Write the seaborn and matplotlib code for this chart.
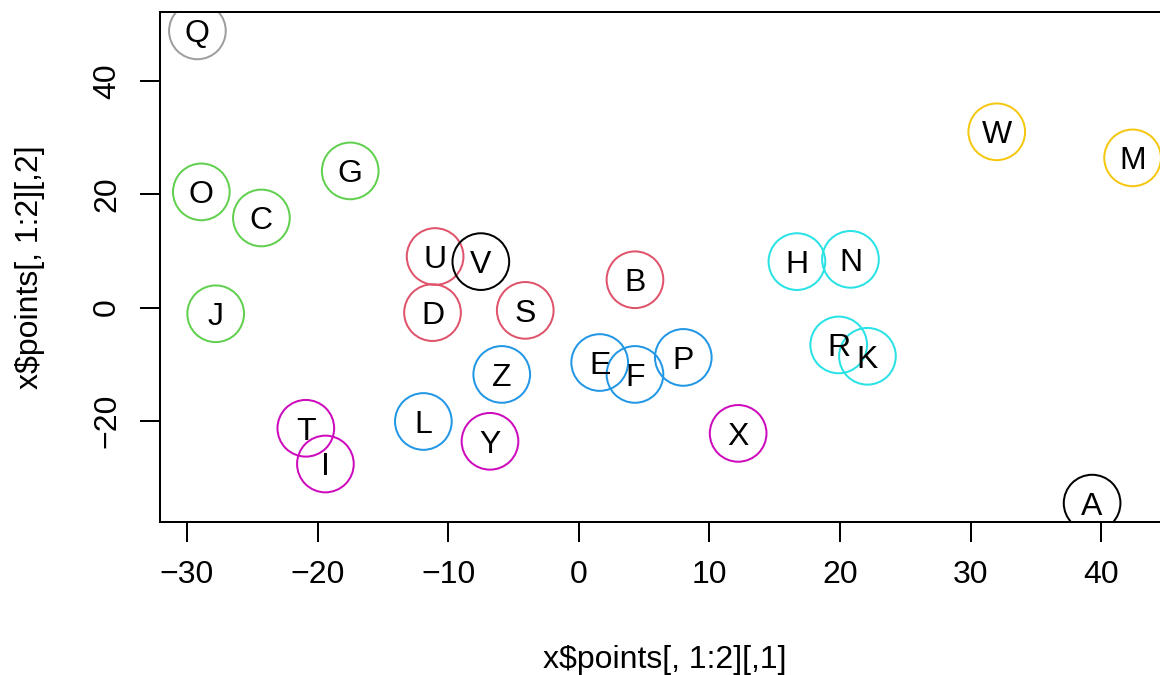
"""Labelled MDS-style scatter, hollow circles coloured by cluster."""

import matplotlib

matplotlib.use("Agg")
import matplotlib.pyplot as plt
import pandas as pd
import seaborn as sns

labels = ["Q", "W", "M", "G", "O", "C", "U", "V", "H", "N", "B", "J", "D",
          "S", "R", "K", "P", "E", "F", "Z", "L", "T", "X", "Y", "I", "A"]
xs = [-29.2, 32.0, 42.4, -17.5, -28.9, -24.3, -11.0, -7.5, 16.7, 20.8, 4.3, -27.8, -11.2,
      -4.1, 19.9, 22.1, 8.0, 1.6, 4.3, -5.9, -11.9, -20.9, 12.2, -6.8, -19.4, 39.3]
ys = [48.8, 31.0, 26.4, 24.1, 20.4, 15.8, 9.0, 8.1, 8.1, 8.5, 4.9, -1.1, -0.9,
      -0.5, -6.6, -8.6, -8.8, -9.7, -11.8, -11.8, -20.1, -21.3, -22.2, -23.6, -27.6, -34.5]
groups = [8, 7, 7, 3, 3, 3, 2, 1, 5, 5, 2, 3, 2,
          2, 5, 5, 4, 4, 4, 4, 4, 6, 6, 6, 6, 1]

# R 4.x default palette
palette = {1: "#000000", 2: "#DF536B", 3: "#61D04F", 4: "#2297E6",
           5: "#28E2E5", 6: "#CD0BBC", 7: "#F5C710", 8: "#9E9E9E"}

df = pd.DataFrame({"x": xs, "y": ys, "label": labels, "group": groups})

sns.set_style("ticks")
plt.rcParams["font.family"] = ["Liberation Sans", "DejaVu Sans"]
plt.rcParams["text.color"] = "black"
plt.rcParams["axes.labelcolor"] = "black"

W, H = 1160, 675
fig = plt.figure(figsize=(W / 100, H / 100), dpi=100)
ax = fig.add_axes([160 / W, 1 - 522 / H, 1010 / W, 510 / H])

sns.scatterplot(data=df, x="x", y="y", hue="group", palette=palette, s=1665,
                marker="o", linewidth=1.44, legend=False, ax=ax)
pts = ax.collections[0]
pts.set_edgecolors(pts.get_facecolors())
pts.set_facecolors("none")

fs = 23
for _, row in df.iterrows():
    ax.annotate(row["label"], (row["x"], row["y"]), xytext=(0, -0.36 * fs),
                textcoords="offset points", ha="center", va="baseline",
                fontsize=fs, color="black")

# R-style 4% axis expansion
xr = df["x"].max() - df["x"].min()
yr = df["y"].max() - df["y"].min()
ax.set_xlim(df["x"].min() - 0.04 * xr, df["x"].max() + 0.04 * xr)
ax.set_ylim(df["y"].min() - 0.04 * yr, df["y"].max() + 0.04 * yr)

ax.set_xticks(range(-30, 41, 10))
ax.set_yticks([-20, 0, 20, 40])
for lab in ax.get_yticklabels():
    lab.set_rotation(90)
    lab.set_va("center")
ax.tick_params(direction="out", length=14.4, width=1.44, pad=13,
               labelsize=fs, colors="black")
for sp in ax.spines.values():
    sp.set_visible(True)
    sp.set_linewidth(1.44)
    sp.set_color("black")

ax.set_xlabel("x$points[, 1:2][,1]", fontsize=fs, color="black")
ax.set_ylabel("x$points[, 1:2][,2]", fontsize=fs, color="black")
ax.xaxis.set_label_coords(0.5, (522 - 660) / 510)
ax.xaxis.label.set_va("center")
ax.yaxis.set_label_coords((30 - 160) / 1010, 0.5)
ax.yaxis.label.set_va("center")

fig.savefig("out.png", dpi=100)
